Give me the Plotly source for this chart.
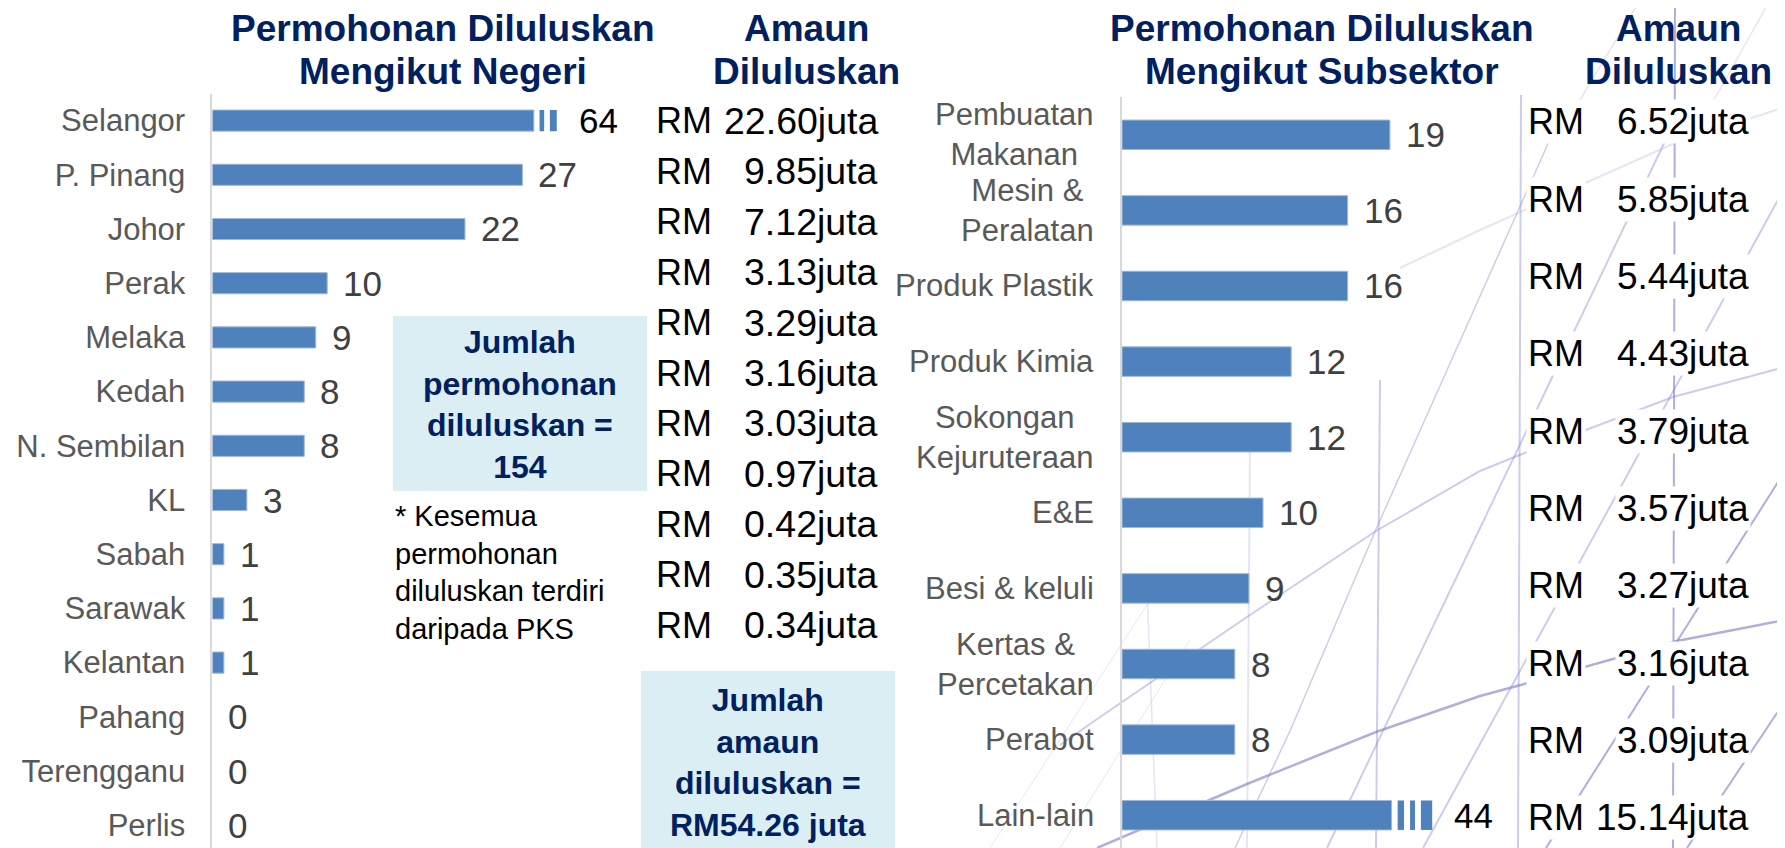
import plotly.graph_objects as go

W, H = 1785, 848
OFF = 8  # page body margin in the browser

# ---------------- data ----------------
states = ["Selangor", "P. Pinang", "Johor", "Perak", "Melaka", "Kedah", "N. Sembilan",
          "KL", "Sabah", "Sarawak", "Kelantan", "Pahang", "Terengganu", "Perlis"]
state_counts = [64, 27, 22, 10, 9, 8, 8, 3, 1, 1, 1, 0, 0, 0]
state_amounts = [22.60, 9.85, 7.12, 3.13, 3.29, 3.16, 3.03, 0.97, 0.42, 0.35, 0.34]

subsectors = ["Pembuatan<br>Makanan", "Mesin &<br>Peralatan", "Produk Plastik", "Produk Kimia",
              "Sokongan<br>Kejuruteraan", "E&E", "Besi & keluli", "Kertas &<br>Percetakan",
              "Perabot", "Lain-lain"]
sub_counts = [19, 16, 16, 12, 12, 10, 9, 8, 8, 44]
sub_amounts = [6.52, 5.85, 5.44, 4.43, 3.79, 3.57, 3.27, 3.16, 3.09, 15.14]

total_apps = 154
total_amount = 54.26

titles = [(443, ["Permohonan Diluluskan", "Mengikut Negeri"]),
          (806, ["Amaun", "Diluluskan"]),
          (1322, ["Permohonan Diluluskan", "Mengikut Subsektor"]),
          (1678, ["Amaun", "Diluluskan"])]

# broken-bar display settings (axis break)
CAP_L = 28.0
STRIPES_L = [(0.5, 0.9), (1.4, 2.0)]
CAP_R = 19.12
STRIPES_R = [(0.43, 0.88), (1.31, 1.66), (2.08, 2.88)]

BAR = "#4F81BD"
NAVY = "#002060"
GREY = "#595959"
VAL = "#404040"
FONT = "Liberation Sans, Arial"


def px(x):
    return (x - OFF) / (W - OFF)


def py(y):
    return 1 - (y - OFF) / (H - OFF)


fig = go.Figure()


def add_chart(cats, vals, cap, stripes, xa, ya):
    disp = [min(v, cap) for v in vals]
    fig.add_trace(go.Bar(orientation="h", x=disp, y=cats, width=0.39,
                         marker=dict(color=BAR, line=dict(color="#9DB8DB",
                                                          width=[1 if v > 0 else 0 for v in vals])),
                         xaxis=xa, yaxis=ya, hoverinfo="skip"))
    for s0, s1 in stripes:
        bc = [c for c, v in zip(cats, vals) if v > cap]
        fig.add_trace(go.Bar(orientation="h", x=[s1 - s0] * len(bc), base=[cap + s0] * len(bc),
                             y=bc, width=0.39, marker=dict(color=BAR, line=dict(width=0)),
                             xaxis=xa, yaxis=ya, hoverinfo="skip"))
    for c, v in zip(cats, vals):
        broken = v > cap
        end = cap + stripes[-1][1] if broken else v
        fig.add_annotation(x=end, y=c, xref=xa, yref=ya, text=str(v), showarrow=False,
                           xanchor="left", yanchor="middle", xshift=20 if broken else 14,
                           font=dict(size=35, color="#000000" if broken else VAL, family=FONT))


add_chart(states, state_counts, CAP_L, STRIPES_L, "x", "y")
add_chart(subsectors, sub_counts, CAP_R, STRIPES_R, "x2", "y2")

# right category labels (centre-aligned multi-line)
for c in subsectors:
    fig.add_annotation(x=0, y=c, xref="x2 domain", yref="y2", text=c, showarrow=False,
                       xanchor="right", yanchor="middle", align="center", xshift=-26,
                       font=dict(size=31, color=GREY, family=FONT))

# amount columns
RMF = dict(size=36, color="#000000", family=FONT)
AF = dict(size=37.5, color="#000000", family=FONT)
for i, a in enumerate(state_amounts):
    yy = 121 + i * 50.4
    fig.add_annotation(x=px(654), y=py(yy), xref="paper", yref="paper", text="RM",
                       showarrow=False, xanchor="left", yanchor="middle", font=RMF)
    fig.add_annotation(x=px(880), y=py(yy), xref="paper", yref="paper", text=f"{a:.2f}juta",
                       showarrow=False, xanchor="right", yanchor="middle", font=AF)
for i, a in enumerate(sub_amounts):
    yy = 122 + i * 77.3
    fig.add_annotation(x=px(1526), y=py(yy), xref="paper", yref="paper", text="RM",
                       showarrow=False, xanchor="left", yanchor="middle", bgcolor="white",
                       font=RMF)
    fig.add_annotation(x=px(1751), y=py(yy), xref="paper", yref="paper", text=f"{a:.2f}juta",
                       showarrow=False, xanchor="right", yanchor="middle", bgcolor="white",
                       font=dict(size=37, color="#000000", family=FONT))

# titles
TF = dict(size=37, color=NAVY, family=FONT)
for xc, lines in titles:
    for j, ln in enumerate(lines):
        fig.add_annotation(x=px(xc), y=py(28 + j * 44), xref="paper", yref="paper",
                           text=f"<b>{ln}</b>", showarrow=False, xanchor="center",
                           yanchor="middle", font=TF)

# info boxes
fig.add_shape(type="rect", xref="paper", yref="paper", x0=px(393), x1=px(647),
              y0=py(491), y1=py(316), fillcolor="#DAEEF3", line=dict(width=0), layer="below")
fig.add_shape(type="rect", xref="paper", yref="paper", x0=px(641), x1=px(895),
              y0=0, y1=py(671), fillcolor="#DAEEF3", line=dict(width=0), layer="below")
BF = dict(size=32, color=NAVY, family=FONT)
fig.add_annotation(x=px(520), y=py(404), xref="paper", yref="paper", showarrow=False,
                   text=f"<b>Jumlah<br>permohonan<br>diluluskan =<br>{total_apps}</b>",
                   xanchor="center", yanchor="middle", align="center", font=BF)
fig.add_annotation(x=px(768), y=py(762), xref="paper", yref="paper", showarrow=False,
                   text=f"<b>Jumlah<br>amaun<br>diluluskan =<br>RM{total_amount:.2f} juta</b>",
                   xanchor="center", yanchor="middle", align="center", font=BF)
fig.add_annotation(x=px(393), y=py(572), xref="paper", yref="paper", showarrow=False,
                   text="* Kesemua<br>permohonan<br>diluluskan terdiri<br>daripada PKS",
                   xanchor="left", yanchor="middle", align="left",
                   font=dict(size=29, color="#000000", family=FONT))

# decorative background lines
STRONG = "rgba(110,110,195,0.55)"
MID = "rgba(130,130,205,0.40)"
FAINT = "rgba(160,160,215,0.28)"
deco = [
    ([(1521, 95), (1518, 848)], MID, 2),
    ([(1675, 0), (1673, 848)], STRONG, 2),
    ([(1380, 380), (1376, 848)], MID, 2),
    ([(1250, 440), (1247, 848)], FAINT, 2),
    ([(1147, 590), (1157, 848)], FAINT, 1.5),
    ([(1097, 848), (1247, 784), (1376, 732), (1480, 696), (1517, 686), (1677, 641), (1785, 620)], STRONG, 2.5),
    ([(1060, 745), (1100, 717), (1247, 617), (1376, 531), (1480, 471), (1517, 456), (1673, 397), (1785, 367)], MID, 2),
    ([(1400, 268), (1480, 230), (1675, 143), (1785, 107)], FAINT, 2),
    ([(1785, 187), (1480, 744), (1423, 848)], MID, 2),
    ([(1785, 471), (1546, 848)], STRONG, 2),
    ([(1785, 701), (1687, 848)], STRONG, 2),
    ([(1680, 110), (1327, 848)], MID, 2),
    ([(1563, 110), (1423, 424), (1377, 527), (1290, 731), (1235, 848)], MID, 1.5),
    ([(1770, 0), (1700, 125)], FAINT, 1.5),
    ([(1640, 0), (1580, 100)], FAINT, 1.5),
    ([(990, 848), (1150, 600)], FAINT, 1),
    ([(1060, 848), (1190, 640)], FAINT, 1),
]
for pts, col, wd in deco:
    path = "M " + " L ".join(f"{px(x):.5f},{py(y):.5f}" for x, y in pts)
    fig.add_shape(type="path", path=path, xref="paper", yref="paper",
                  line=dict(color=col, width=wd), layer="below")

# axes
XL0, XL1 = 212.4, 650
XR0, XR1 = 1122, 1500
fig.update_layout(
    width=W - OFF, height=H - OFF, margin=dict(l=0, r=0, t=0, b=0),
    paper_bgcolor="white", plot_bgcolor="rgba(0,0,0,0)",
    showlegend=False, barmode="overlay",
    xaxis=dict(domain=[px(XL0), px(XL1)], range=[0, (XL1 - XL0) / 11.48],
               visible=False, fixedrange=True),
    yaxis=dict(domain=[0, py(93.5)], type="category", categoryorder="array",
               categoryarray=states, range=[-0.5 + (H - 93.5) / 54.2, -0.5],
               showline=True, linecolor="#D9D9D9", linewidth=2, showgrid=False,
               zeroline=False, ticks="", ticklabelstandoff=19,
               tickfont=dict(size=31, color=GREY, family=FONT)),
    xaxis2=dict(domain=[px(XR0), px(XR1)], range=[0, (XR1 - XR0) / 14.1],
                visible=False, fixedrange=True, anchor="y2"),
    yaxis2=dict(domain=[0, py(97)], type="category", categoryorder="array",
                categoryarray=subsectors, range=[-0.5 + (H - 97) / 75.6, -0.5],
                anchor="x2", showline=True, linecolor="#D9D9D9", linewidth=2,
                showgrid=False, zeroline=False, ticks="", showticklabels=False),
)

fig.write_html("out.html")
